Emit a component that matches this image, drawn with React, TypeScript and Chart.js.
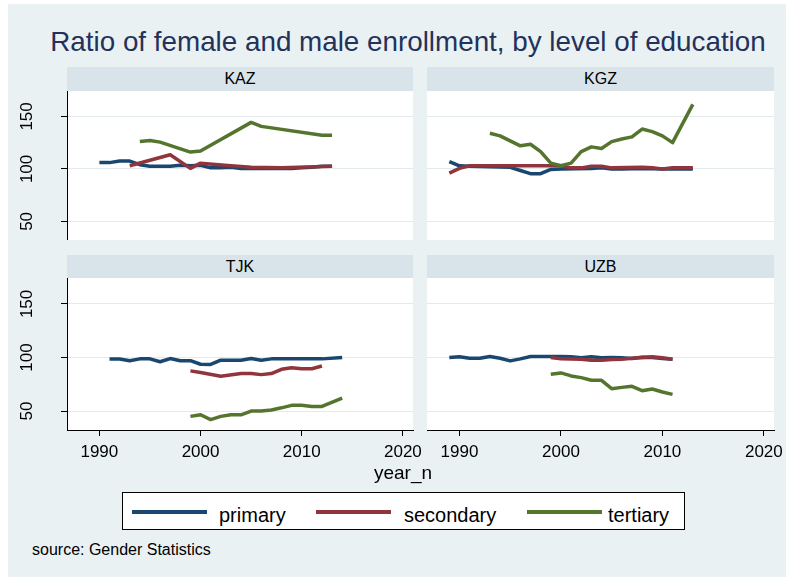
import React, { useEffect, useRef } from "react";
import { Chart, registerables } from "chart.js";
Chart.register(...registerables);

const chartTitle = "Ratio of female and male enrollment, by level of education";
const countries = ["KAZ", "KGZ", "TJK", "UZB"];
const seriesNames = ["primary", "secondary", "tertiary"];
const seriesColors = ["#1a476f", "#90353b", "#55752f"];
const xTicks = [1990, 2000, 2010, 2020];
const yTicks = [50, 100, 150];
const xTitle = "year_n";
const sourceNote = "source: Gender Statistics";

// KAZ
const kazPrimaryYears = [1990, 1991, 1992, 1993, 1994, 1995, 1997, 1998, 1999, 2000, 2001, 2002, 2003, 2004, 2009, 2010, 2011, 2012, 2013];
const kazPrimary = [106, 106, 107.5, 107.5, 104, 102.5, 102.5, 103.5, 103, 103.5, 101, 101, 101.5, 100.5, 100.5, 101, 101.5, 102.5, 102.5];
const kazSecondaryYears = [1993, 1997, 1999, 2000, 2003, 2005, 2008, 2013];
const kazSecondary = [103, 113.5, 100.5, 105.5, 103, 101.5, 101, 102.5];
const kazTertiaryYears = [1994, 1995, 1996, 1999, 2000, 2005, 2006, 2012, 2013];
const kazTertiary = [126, 127, 125.5, 116, 117, 144.3, 140.5, 132, 132];

// KGZ
const kgzPrimaryYears = [1989, 1990, 1991, 1995, 1996, 1997, 1998, 1999, 2000, 2003, 2004, 2005, 2006, 2008, 2010, 2013];
const kgzPrimary = [107, 103, 102.5, 101.5, 98.5, 95.5, 95.5, 99.5, 100, 100.5, 101, 100, 100, 100.5, 100, 100];
const kgzSecondaryYears = [1989, 1990, 1991, 2000, 2001, 2002, 2003, 2004, 2005, 2008, 2009, 2010, 2011, 2013];
const kgzSecondary = [96, 100.5, 103, 103, 101, 101, 102.5, 102.5, 101, 101.5, 101, 100, 101, 101];
const kgzTertiaryYears = [1993, 1994, 1996, 1997, 1998, 1999, 2000, 2001, 2002, 2003, 2004, 2005, 2006, 2007, 2008, 2009, 2010, 2011, 2013];
const kgzTertiary = [134, 131.5, 122, 123.5, 116.5, 105.5, 103, 105.5, 116.5, 121, 119.5, 126, 128.5, 130.5, 138, 135.5, 131.5, 125, 161.5];

// TJK
const tjkPrimaryYears = [1991, 1992, 1993, 1994, 1995, 1996, 1997, 1998, 1999, 2000, 2001, 2002, 2004, 2005, 2006, 2007, 2012, 2014];
const tjkPrimary = [98.5, 98.5, 97, 98.7, 98.7, 96, 99, 97, 97, 93.7, 93.5, 97.5, 97.5, 99, 97.5, 98.7, 98.7, 100];
const tjkSecondaryYears = [1999, 2000, 2002, 2004, 2005, 2006, 2007, 2008, 2009, 2010, 2011, 2012];
const tjkSecondary = [87.5, 86, 82.5, 85, 85, 84, 85, 89, 90.5, 89.5, 89.5, 92];
const tjkTertiaryYears = [1999, 2000, 2001, 2002, 2003, 2004, 2005, 2006, 2007, 2008, 2009, 2010, 2011, 2012, 2014];
const tjkTertiary = [45, 46.5, 42, 45, 46.5, 46.5, 50, 50, 51, 53, 55.3, 55.3, 54.3, 54.3, 62];

// UZB
const uzbPrimaryYears = [1989, 1990, 1991, 1992, 1993, 1994, 1995, 1996, 1997, 2000, 2001, 2002, 2003, 2004, 2005, 2006, 2007, 2008, 2009, 2010, 2011];
const uzbPrimary = [100, 100.6, 99.3, 99.3, 100.9, 99.3, 96.8, 98.7, 100.9, 100.9, 100.6, 99.7, 100.6, 99.7, 100, 99.7, 99, 100.3, 100, 99, 98.4];
const uzbSecondaryYears = [1999, 2000, 2002, 2003, 2004, 2005, 2006, 2007, 2008, 2009, 2010, 2011];
const uzbSecondary = [100, 98.7, 98.4, 97.5, 97.5, 98.1, 98.4, 99.3, 100, 100.6, 99.7, 98.4];
const uzbTertiaryYears = [1999, 2000, 2001, 2002, 2003, 2004, 2005, 2006, 2007, 2008, 2009, 2010, 2011];
const uzbTertiary = [84.3, 85.6, 82.8, 81.2, 78.7, 78.7, 70.9, 72.1, 73.1, 69, 70.6, 67.8, 65.6];

const panelSeries: [number[], number[]][][] = [
  [[kazPrimaryYears, kazPrimary], [kazSecondaryYears, kazSecondary], [kazTertiaryYears, kazTertiary]],
  [[kgzPrimaryYears, kgzPrimary], [kgzSecondaryYears, kgzSecondary], [kgzTertiaryYears, kgzTertiary]],
  [[tjkPrimaryYears, tjkPrimary], [tjkSecondaryYears, tjkSecondary], [tjkTertiaryYears, tjkTertiary]],
  [[uzbPrimaryYears, uzbPrimary], [uzbSecondaryYears, uzbSecondary], [uzbTertiaryYears, uzbTertiary]],
];

const X_MIN = 1986.8;
const X_MAX = 2021.0;
const Y_MIN = 32.3;
const Y_MAX = 174.2;

const FONT = "'Liberation Sans', Arial, Helvetica, sans-serif";
const TICK_FONT = "'Liberation Sans Narrow', 'Liberation Sans', Arial, sans-serif";
const TICK_SIZE = 17;
const BG = "#eaf1f3";
const STRIP = "#d8e4ea";
const GRID = "#e3ebee";

const bgPlugin = {
  id: "plotBg",
  beforeDraw(chart: any) {
    const { ctx, chartArea } = chart;
    ctx.save();
    ctx.fillStyle = "#ffffff";
    ctx.fillRect(chartArea.left, chartArea.top, chartArea.right - chartArea.left, chartArea.bottom - chartArea.top);
    ctx.restore();
  },
};

const yLabelPlugin = {
  id: "yLabels",
  afterDraw(chart: any, _args: any, opts: any) {
    if (!opts || !opts.show) return;
    const s = chart.scales.y;
    const ctx = chart.ctx;
    ctx.save();
    ctx.font = `${TICK_SIZE}px ${TICK_FONT}`;
    ctx.fillStyle = "#000";
    ctx.textAlign = "center";
    ctx.textBaseline = "middle";
    s.ticks.forEach((t: any) => {
      const y = s.getPixelForValue(t.value);
      ctx.save();
      ctx.translate(opts.x, y);
      ctx.rotate(-Math.PI / 2);
      ctx.fillText(String(t.value), 0, 0);
      ctx.restore();
    });
    ctx.restore();
  },
};

type PanelProps = {
  idx: number;
  left: number;
  top: number;
  width: number;
  height: number;
  yAxisW: number;
  xAxisH: number;
  padRight: number;
  yLabelX: number;
};

function Panel({ idx, left, top, width, height, yAxisW, xAxisH, padRight, yLabelX }: PanelProps) {
  const ref = useRef<HTMLCanvasElement | null>(null);
  useEffect(() => {
    if (!ref.current) return;
    const hasY = yAxisW > 0;
    const hasX = xAxisH > 0;
    const datasets = panelSeries[idx].map(([years, vals], i) => ({
      label: seriesNames[i],
      data: years.map((yr, k) => ({ x: yr, y: vals[k] })),
      borderColor: seriesColors[i],
      backgroundColor: seriesColors[i],
      borderWidth: 3.5,
      pointRadius: 0,
      tension: 0,
      fill: false,
      borderCapStyle: "butt" as const,
      borderJoinStyle: "round" as const,
      order: 3 - i,
    }));
    const chart = new Chart(ref.current, {
      type: "line",
      data: { datasets },
      plugins: [bgPlugin, yLabelPlugin],
      options: {
        animation: false,
        responsive: false,
        maintainAspectRatio: false,
        devicePixelRatio: 1,
        layout: { padding: { left: 0, top: 0, bottom: 0, right: padRight } },
        plugins: {
          legend: { display: false },
          title: { display: false },
          tooltip: { enabled: false },
          yLabels: { show: hasY, x: yLabelX },
        } as any,
        scales: {
          x: {
            type: "linear",
            min: X_MIN,
            max: X_MAX,
            display: hasX,
            afterBuildTicks: (s: any) => {
              s.ticks = xTicks.map((v) => ({ value: v }));
            },
            afterFit: (s: any) => {
              s.height = xAxisH;
              s.paddingLeft = 0;
              s.paddingRight = 0;
            },
            grid: {
              drawOnChartArea: false,
              drawTicks: true,
              tickLength: 6,
              tickColor: "#000",
              tickWidth: 1,
            },
            border: { display: true, color: "#000", width: 1 },
            ticks: {
              font: { family: TICK_FONT, size: TICK_SIZE },
              color: "#000",
              padding: 6,
              maxRotation: 0,
              minRotation: 0,
              autoSkip: false,
              callback: (v: any) => String(v),
            },
          },
          y: {
            type: "linear",
            min: Y_MIN,
            max: Y_MAX,
            display: true,
            afterBuildTicks: (s: any) => {
              s.ticks = yTicks.map((v) => ({ value: v }));
            },
            afterFit: (s: any) => {
              s.width = yAxisW;
              s.paddingTop = 0;
              s.paddingBottom = 0;
              s.paddingLeft = 0;
              s.paddingRight = 0;
            },
            grid: {
              drawOnChartArea: true,
              color: GRID,
              lineWidth: 1,
              drawTicks: hasY,
              tickLength: 6,
              tickColor: "#000",
              tickWidth: 1,
            },
            border: { display: hasY, color: "#000", width: 1 },
            ticks: { display: false },
          },
        },
      } as any,
    });
    return () => chart.destroy();
  }, [idx, left, top, width, height, yAxisW, xAxisH, padRight, yLabelX]);
  return (
    <canvas
      ref={ref}
      width={width}
      height={height}
      style={{ position: "absolute", left, top, width, height }}
    />
  );
}

const colLeft = [67, 427];
const colWidth = [346, 347];
const rowTop = [91, 278];
const rowHeight = [149, 152];
const stripTop = [67, 255];
const stripHeight = [24, 23];

export default function App() {
  const legendItems = [
    { lineX: 132, textX: 219 },
    { lineX: 316, textX: 404 },
    { lineX: 527, textX: 608 },
  ];
  return (
    <div
      style={{
        position: "absolute",
        left: 0,
        top: 0,
        width: 786,
        height: 577,
        overflow: "hidden",
        background: "#ffffff",
        fontFamily: FONT,
      }}
    >
      <div style={{ position: "absolute", left: 8, top: 4, right: 0, bottom: 0, background: BG }} />
      <div
        style={{
          position: "absolute",
          left: 30,
          width: 756,
          top: 28,
          fontSize: 27.8,
          lineHeight: "28px",
          textAlign: "center",
          color: "#23325a",
          whiteSpace: "nowrap",
        }}
      >
        {chartTitle}
      </div>
      {countries.map((c, i) => {
        const col = i % 2;
        const row = Math.floor(i / 2);
        return (
          <div
            key={c}
            style={{
              position: "absolute",
              left: colLeft[col],
              top: stripTop[row],
              width: colWidth[col],
              height: stripHeight[row],
              background: STRIP,
              color: "#000",
              fontSize: 16,
              lineHeight: `${stripHeight[row]}px`,
              textAlign: "center",
            }}
          >
            {c}
          </div>
        );
      })}
      {countries.map((c, i) => {
        const col = i % 2;
        const row = Math.floor(i / 2);
        const yAxisW = col === 0 ? 57 : 0;
        const xAxisH = row === 1 ? 36 : 0;
        const padRight = row === 1 ? 12 : 0;
        const left = colLeft[col] - yAxisW;
        return (
          <Panel
            key={c}
            idx={i}
            left={left}
            top={rowTop[row]}
            width={colWidth[col] + yAxisW + padRight}
            height={rowHeight[row] + xAxisH}
            yAxisW={yAxisW}
            xAxisH={xAxisH}
            padRight={padRight}
            yLabelX={27 - left}
          />
        );
      })}
      <div
        style={{
          position: "absolute",
          left: 303,
          width: 200,
          top: 463,
          fontSize: 19,
          lineHeight: "20px",
          textAlign: "center",
          color: "#000",
        }}
      >
        {xTitle}
      </div>
      <div
        style={{
          position: "absolute",
          left: 122,
          top: 492,
          width: 563,
          height: 38,
          boxSizing: "border-box",
          border: "1px solid #000",
          background: "#fff",
        }}
      />
      {legendItems.map((it, i) => (
        <React.Fragment key={seriesNames[i]}>
          <div
            style={{
              position: "absolute",
              left: it.lineX,
              top: 510,
              width: 75,
              height: 3.5,
              background: seriesColors[i],
            }}
          />
          <div
            style={{
              position: "absolute",
              left: it.textX,
              top: 504.5,
              fontSize: 20,
              lineHeight: "20px",
              color: "#000",
              whiteSpace: "nowrap",
            }}
          >
            {seriesNames[i]}
          </div>
        </React.Fragment>
      ))}
      <div
        style={{
          position: "absolute",
          left: 32,
          top: 542,
          fontSize: 16,
          lineHeight: "16px",
          color: "#000",
          whiteSpace: "nowrap",
        }}
      >
        {sourceNote}
      </div>
    </div>
  );
}
